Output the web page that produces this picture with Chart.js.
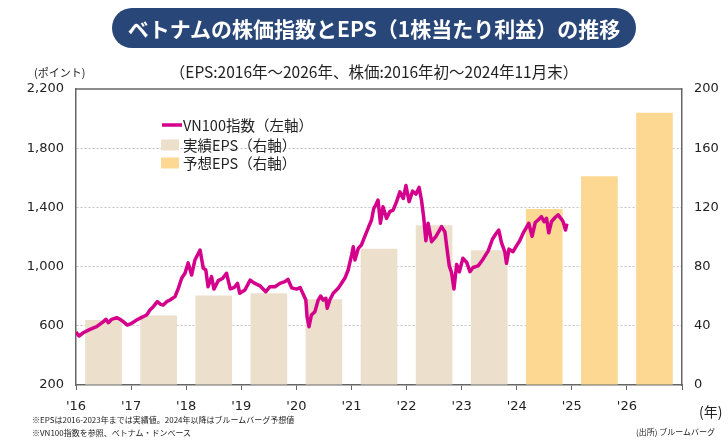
<!DOCTYPE html>
<html lang="ja">
<head>
<meta charset="utf-8">
<script src="https://cdn.jsdelivr.net/npm/chart.js@4.4.1/dist/chart.umd.min.js"></script>
<style>
  body { margin: 0; background: #fff; font-family: "Noto Sans CJK JP", "Noto Sans", sans-serif; color: #222; }
  #wrap { position: relative; width: 728px; height: 440px; overflow: hidden; }
  #chart { position: absolute; left: 0; top: 0; }
  .title { position: absolute; left: 112px; top: 8px; width: 524px; height: 40px; border-radius: 20px;
    background: #284778; color: #fff; font-weight: bold; font-size: 21px; line-height: 40px; text-align: center; }
  .sub { position: absolute; left: 0; width: 748px; top: 60px; text-align: center; font-size: 15.5px; }
  .unit { position: absolute; left: 34px; top: 64px; font-size: 11px; }
  .notes { position: absolute; left: 32px; top: 413px; font-size: 8px; line-height: 13px; }
  .year { position: absolute; left: 699px; top: 401px; font-size: 14px; }
  .src { position: absolute; left: 636px; top: 426px; font-size: 8px; }
</style>
</head>
<body>
<div id="wrap">
  <canvas id="chart" width="728" height="440"></canvas>
  <div class="title">ベトナムの株価指数とEPS（1株当たり利益）の推移</div>
  <div class="sub">（EPS:2016年～2026年、株価:2016年初～2024年11月末）</div>
  <div class="unit">(ポイント)</div>
  <div class="notes">※EPSは2016-2023年までは実績値。2024年以降はブルームバーグ予想値<br>※VN100指数を参照、ベトナム・ドンベース</div>
  <div class="year">(年)</div>
  <div class="src">(出所) ブルームバーグ</div>
</div>
<script>
// VN100 index (left axis)
const vnDates = [
  "2016-01-01","2016-01-21","2016-02-18","2016-04-03","2016-05-17","2016-07-01","2016-07-18","2016-08-03",
  "2016-08-25","2016-09-27","2016-10-19","2016-11-10","2016-12-07","2017-01-05","2017-02-07","2017-03-12",
  "2017-04-14","2017-05-06","2017-05-28","2017-06-24","2017-07-16","2017-08-02","2017-08-25","2017-09-16",
  "2017-10-19","2017-11-10","2017-12-02","2017-12-24","2018-01-14","2018-02-06","2018-02-28","2018-04-03",
  "2018-04-24","2018-05-11","2018-05-26","2018-06-18","2018-07-04","2018-08-01","2018-08-30","2018-09-25",
  "2018-10-20","2018-11-17","2018-12-07","2018-12-22","2019-01-25","2019-03-01","2019-03-26","2019-05-05",
  "2019-06-12","2019-07-10","2019-08-12","2019-09-14","2019-10-17","2019-11-06","2019-12-01","2020-01-02",
  "2020-01-26","2020-02-15","2020-03-04","2020-03-12","2020-03-25","2020-04-10","2020-05-03","2020-05-25",
  "2020-06-10","2020-06-27","2020-07-15","2020-07-24","2020-08-10","2020-09-02","2020-10-05","2020-10-27",
  "2020-11-18","2020-12-10","2021-01-02","2021-01-13","2021-01-24","2021-02-15","2021-03-08","2021-03-30",
  "2021-04-21","2021-05-14","2021-05-29","2021-06-11","2021-06-26","2021-07-12","2021-07-29","2021-08-21",
  "2021-09-12","2021-10-04","2021-10-27","2021-11-18","2021-12-10","2021-12-28","2022-01-18","2022-02-10",
  "2022-03-05","2022-03-25","2022-04-10","2022-04-25","2022-05-09","2022-05-24","2022-06-16","2022-07-14",
  "2022-08-21","2022-09-12","2022-09-27","2022-10-11","2022-10-26","2022-11-11","2022-11-29","2022-12-17",
  "2023-01-09","2023-02-03","2023-02-25","2023-03-18","2023-04-20","2023-05-23","2023-06-26","2023-07-24",
  "2023-08-15","2023-09-04","2023-09-22","2023-10-14","2023-10-25","2023-11-11","2023-12-08","2023-12-30",
  "2024-01-21","2024-02-17","2024-03-02","2024-03-21","2024-04-12","2024-05-03","2024-05-22","2024-06-13",
  "2024-07-01","2024-07-17","2024-08-01","2024-08-19","2024-09-10","2024-10-02","2024-10-20","2024-11-04",
  "2024-11-20","2024-11-29"
];
const vnValues = [
  558, 531, 553, 576, 594, 628, 644, 621,
  644, 655, 644, 628, 605, 617, 639, 657,
  673, 707, 729, 763, 745, 740, 763, 774,
  797, 853, 921, 955, 1025, 943, 1045, 1112,
  990, 977, 864, 932, 848, 905, 920, 955,
  850, 860, 887, 820, 842, 909, 890, 870,
  830, 864, 864, 887, 898, 914, 856, 848,
  858, 815, 774, 661, 594, 673, 695, 774,
  801, 774, 786, 718, 774, 820, 853, 887,
  921, 977, 1078, 1134, 1045, 1123, 1146, 1202,
  1259, 1315, 1394, 1416, 1450, 1293, 1405, 1326,
  1371, 1382, 1439, 1505, 1460, 1548, 1439, 1510,
  1490, 1535, 1450, 1330, 1175, 1293, 1168, 1202,
  1270, 1235, 1112, 1005, 960, 848, 1015, 965,
  1056, 1030, 966, 994, 1005, 1050, 1106, 1185,
  1220, 1247, 1162, 1100, 1022, 1118, 1101, 1140,
  1175, 1235, 1259, 1293, 1205, 1298, 1315, 1337,
  1304, 1326, 1228, 1304, 1330, 1349, 1326, 1304,
  1247, 1290
];

// EPS (right axis)
const actualYears = [2016, 2017, 2018, 2019, 2020, 2021, 2022, 2023];
const actualEps = [44, 47, 60.5, 62, 58, 92, 108, 91];
const forecastYears = [2024, 2025, 2026];
const forecastEps = [119, 141, 184];

const leftTicks = [200, 600, 1000, 1400, 1800, 2200];
const rightTicks = [0, 40, 80, 120, 160, 200];
const yearTicks = [2016, 2017, 2018, 2019, 2020, 2021, 2022, 2023, 2024, 2025, 2026, 2027];

const legendLabels = ["VN100指数（左軸）", "実績EPS（右軸）", "予想EPS（右軸）"];

// date string -> fractional year for the linear x axis
const toYear = (s) => {
  const [y, m, d] = s.split("-").map(Number);
  const start = Date.UTC(y, 0, 1);
  const end = Date.UTC(y + 1, 0, 1);
  return y + (Date.UTC(y, m - 1, d) - start) / (end - start);
};

const lineData = vnDates.map((d, i) => ({ x: toYear(d), y: vnValues[i] }));
const actualData = actualYears.map((y, i) => ({ x: y + 0.5, y: actualEps[i] }));
const forecastData = forecastYears.map((y, i) => ({ x: y + 0.5, y: forecastEps[i] }));

const tickFont = { family: "DejaVu Sans", size: 13 };
const axisColor = "#666";
const gridColor = "#c4c4c4";

// box on top of chart area + legend inside the plot
const boxAndLegend = {
  id: "boxAndLegend",
  afterDraw(chart) {
    const { ctx, chartArea } = chart;
    ctx.save();
    ctx.strokeStyle = axisColor;
    ctx.lineWidth = 1.5;
    ctx.beginPath();
    ctx.moveTo(chartArea.left, chartArea.top);
    ctx.lineTo(chartArea.right, chartArea.top);
    ctx.stroke();

    const ds = chart.data.datasets;
    const x0 = 161;
    ctx.font = '14.5px "Noto Sans CJK JP"';
    ctx.fillStyle = "#222";
    ctx.textBaseline = "middle";
    // line item
    ctx.strokeStyle = ds[0].borderColor;
    ctx.lineWidth = 3.5;
    ctx.beginPath();
    ctx.moveTo(x0 + 1, 125);
    ctx.lineTo(x0 + 21, 125);
    ctx.stroke();
    ctx.fillText(ds[0].label, x0 + 22, 125);
    // bar items
    [1, 2].forEach((k, j) => {
      const yc = 145 + j * 18;
      ctx.fillStyle = ds[k].backgroundColor;
      ctx.fillRect(x0, yc - 5.5, 18, 11);
      ctx.fillStyle = "#222";
      ctx.fillText(ds[k].label, x0 + 22, yc);
    });
    ctx.restore();
  }
};

new Chart(document.getElementById("chart"), {
  data: {
    datasets: [
      {
        type: "line",
        label: legendLabels[0],
        data: lineData,
        yAxisID: "y",
        borderColor: "#d4008c",
        borderWidth: 3.5,
        pointRadius: 0,
        tension: 0,
        borderJoinStyle: "round",
        order: 0
      },
      {
        type: "bar",
        label: legendLabels[1],
        data: actualData,
        yAxisID: "y1",
        backgroundColor: "#ecdfcb",
        stack: "eps",
        barPercentage: 0.665,
        categoryPercentage: 1,
        order: 1
      },
      {
        type: "bar",
        label: legendLabels[2],
        data: forecastData,
        yAxisID: "y1",
        backgroundColor: "#fdd893",
        stack: "eps",
        barPercentage: 0.665,
        categoryPercentage: 1,
        order: 2
      }
    ]
  },
  options: {
    responsive: false,
    animation: false,
    layout: { padding: { top: 89, left: 0, right: 0, bottom: 0 } },
    plugins: { legend: { display: false }, tooltip: { enabled: false } },
    scales: {
      x: {
        type: "linear",
        offset: false,
        min: yearTicks[0],
        max: yearTicks[yearTicks.length - 1],
        afterBuildTicks: (s) => { s.ticks = yearTicks.map((v) => ({ value: v })); },
        afterFit: (s) => { s.height = 55; },
        grid: { offset: false, drawOnChartArea: false, tickLength: 5, color: axisColor, lineWidth: 1 },
        border: { color: axisColor, width: 1.5 },
        ticks: {
          font: tickFont,
          color: "#222",
          padding: 9,
          maxRotation: 0,
          callback: (v) => (v < 2027 ? "'" + String(v).slice(2) : "")
        }
      },
      y: {
        position: "left",
        min: leftTicks[0],
        max: leftTicks[leftTicks.length - 1],
        afterBuildTicks: (s) => { s.ticks = leftTicks.map((v) => ({ value: v })); },
        afterFit: (s) => { s.width = 76; },
        grid: {
          color: (c) => (c.tick && (c.tick.value === 200 || c.tick.value === 2200) ? "rgba(0,0,0,0)" : gridColor),
          lineWidth: 1,
          tickLength: 0
        },
        border: { color: axisColor, width: 1.5, dash: [2, 2] },
        ticks: {
          font: tickFont,
          color: "#222",
          padding: 12,
          callback: (v) => v.toLocaleString("en-US")
        }
      },
      y1: {
        position: "right",
        min: rightTicks[0],
        max: rightTicks[rightTicks.length - 1],
        afterBuildTicks: (s) => { s.ticks = rightTicks.map((v) => ({ value: v })); },
        afterFit: (s) => { s.width = 46; },
        grid: { drawOnChartArea: false, tickLength: 0 },
        border: { color: axisColor, width: 1.5 },
        ticks: { font: tickFont, color: "#222", padding: 12 }
      }
    }
  },
  plugins: [boxAndLegend]
});
</script>
</body>
</html>
